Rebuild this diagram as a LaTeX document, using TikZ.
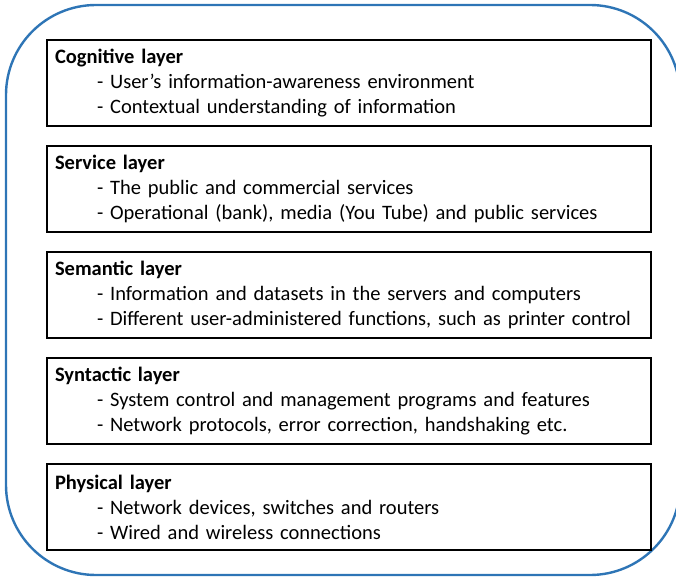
\documentclass[tikz,border=0pt]{standalone}
\usepackage{fontspec}
\setmainfont{Carlito}
\usetikzlibrary{positioning}
\definecolor{frameblue}{RGB}{46,117,182}

\begin{document}
\begin{tikzpicture}
        [
        x=1pt, y=-1pt,
        node distance=20pt,
        layer/.style={draw, line width=2.5pt, outer sep=0pt,
          minimum width=604pt, minimum height=86pt,
          text width=588pt, inner xsep=8pt, align=left,
          font=\fontsize{20.5}{25}\selectfont},
        ]
        \useasboundingbox (0,0) rectangle (676,577);
        \draw[frameblue, line width=2.4pt, rounded corners=90pt] (6,5) rectangle (680,575);
        \node[layer, anchor=north west] (cognitive) at (47,40)
            {\textbf{Cognitive layer}\\
             \hspace*{42pt}- User’s information-awareness environment\\
             \hspace*{42pt}- Contextual understanding of information};
        \node[layer, below=of cognitive] (service)
            {\textbf{Service layer}\\
             \hspace*{42pt}- The public and commercial services\\
             \hspace*{42pt}- Operational (bank), media (You Tube) and public services};
        \node[layer, below=of service] (semantic)
            {\textbf{Semantic layer}\\
             \hspace*{42pt}- Information and datasets in the servers and computers\\
             \hspace*{42pt}- Different user-administered functions, such as printer control};
        \node[layer, below=of semantic] (syntactic)
            {\textbf{Syntactic layer}\\
             \hspace*{42pt}- System control and management programs and features\\
             \hspace*{42pt}- Network protocols, error correction, handshaking etc.};
        \node[layer, below=of syntactic] (physical)
            {\textbf{Physical layer}\\
             \hspace*{42pt}- Network devices, switches and routers\\
             \hspace*{42pt}- Wired and wireless connections};
\end{tikzpicture}
\end{document}
